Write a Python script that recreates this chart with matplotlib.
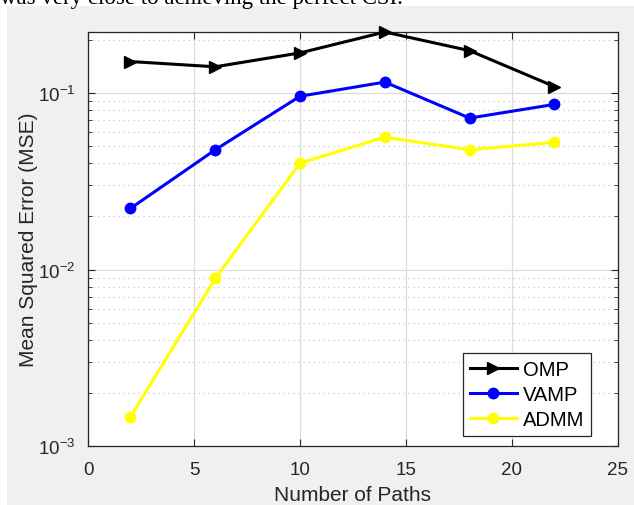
import matplotlib
matplotlib.use("Agg")
import matplotlib.pyplot as plt
from matplotlib.patches import Rectangle
from matplotlib.ticker import LogLocator, NullFormatter

paths = [2, 6, 10, 14, 18, 22]
omp = [0.151, 0.141, 0.169, 0.222, 0.174, 0.109]
vamp = [0.0222, 0.0477, 0.096, 0.1155, 0.0722, 0.0863]
admm = [0.00146, 0.0089, 0.0401, 0.0563, 0.0477, 0.0526]

plt.rcParams['font.family'] = ['Liberation Sans', 'DejaVu Sans']

fig = plt.figure(figsize=(6.34, 5.06), dpi=100)
W, H = 634.0, 506.0
# gray MATLAB figure background, leaving a white strip top/left
fig.patches.append(Rectangle((7 / W, 0), 1, 1 - 7 / H, transform=fig.transFigure,
                             facecolor='#f0f0f0', edgecolor='none', zorder=-10))
fig.text(0, 1 - 4 / H, "was very close to achieving the perfect CSI.",
         family='Liberation Serif', fontsize=16.5, va='baseline', ha='left')

ax = fig.add_axes([88 / W, 1 - 447 / H, 530 / W, 414 / H])
ax.set_facecolor('white')

ax.plot(paths, omp, color='black', lw=2.2, marker='>', ms=8, label='OMP', clip_on=False, zorder=5)
ax.plot(paths, vamp, color='blue', lw=2.2, marker='o', ms=7.5, label='VAMP', zorder=4)
ax.plot(paths, admm, color='yellow', lw=2.2, marker='o', ms=7.5, label='ADMM', zorder=3)

ax.set_yscale('log')
ax.set_xlim(0, 25)
ax.set_ylim(1e-3, 0.222)
ax.set_xticks([0, 5, 10, 15, 20, 25])
ax.yaxis.set_major_locator(LogLocator(base=10, numticks=10))
ax.yaxis.set_minor_locator(LogLocator(base=10, subs=range(2, 10), numticks=10))
ax.yaxis.set_minor_formatter(NullFormatter())

ax.grid(True, which='major', axis='both', color='#dcdcdc', lw=0.9, ls='-')
ax.grid(True, which='minor', axis='y', color='#c8c8c8', lw=0.9, ls=(0, (1, 3)))
ax.set_axisbelow(True)

for s in ax.spines.values():
    s.set_color('#262626')
    s.set_linewidth(0.9)
ax.tick_params(which='both', direction='in', top=True, right=True, colors='#262626',
               labelsize=13.5, labelcolor='#262626')
ax.tick_params(which='major', length=5)
ax.tick_params(which='minor', length=3)
ax.tick_params(axis='x', pad=11)
ax.tick_params(axis='y', pad=9)

ax.set_xlabel('Number of Paths', fontsize=15, color='#262626', labelpad=5)
ax.set_ylabel('Mean Squared Error (MSE)', fontsize=15, color='#262626', labelpad=0)

leg = ax.legend(loc='lower right', bbox_to_anchor=(0.949, 0.024), fontsize=14.5,
                fancybox=False, framealpha=1, edgecolor='#262626', handlelength=2.3,
                borderpad=0.35, labelspacing=0.3, handletextpad=0.3, borderaxespad=0)
leg.get_frame().set_linewidth(0.9)

fig.savefig('out.png', dpi=100)
